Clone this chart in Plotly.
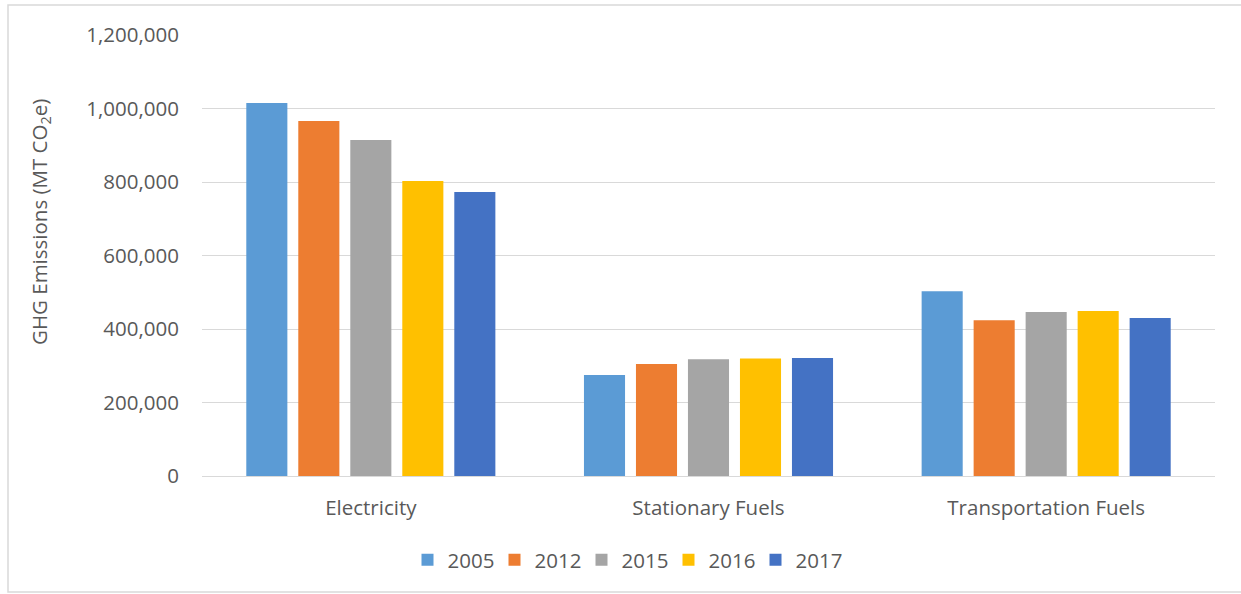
import plotly.graph_objects as go

categories = ["Electricity", "Stationary Fuels", "Transportation Fuels"]
years = ["2005", "2012", "2015", "2016", "2017"]
v2005 = [1015000, 275000, 503000]
v2012 = [966000, 305000, 424000]
v2015 = [914000, 318000, 446000]
v2016 = [803000, 320000, 449000]
v2017 = [773000, 321000, 430000]
series = [v2005, v2012, v2015, v2016, v2017]
colors = ["#5B9BD5", "#ED7D31", "#A5A5A5", "#FFC000", "#4472C4"]

W, H = 1241, 594
L, R, T, B = 202, 1215, 35, 476

fig = go.Figure()
for yr, vals, c in zip(years, series, colors):
    fig.add_trace(go.Bar(name=yr, x=categories, y=vals, marker_color=c,
                         marker_line_width=0))

font = "Open Sans, DejaVu Sans, sans-serif"
grey = "#595959"

def px2x(px):
    return (px - L) / (R - L)

def py2y(py):
    return (B - py) / (B - T)

fig.update_layout(
    width=W, height=H,
    margin=dict(l=L, r=W - R, t=T, b=H - B),
    paper_bgcolor="white", plot_bgcolor="white",
    barmode="group", bargap=0.23, bargroupgap=0.21,
    font=dict(family=font, color=grey, size=20),
    showlegend=True,
    legend=dict(orientation="h", x=px2x(625), xanchor="center",
                y=py2y(560), yanchor="middle",
                font=dict(size=20.5, color=grey), traceorder="normal",
                itemwidth=30, entrywidth=42, entrywidthmode="pixels"),
    yaxis=dict(range=[0, 1200000], dtick=200000, tickformat=",d",
               showgrid=True, gridcolor="#D9D9D9", gridwidth=1.3,
               zeroline=True, zerolinecolor="#D9D9D9", zerolinewidth=1.3,
               showline=False, ticks="", ticklabelstandoff=22,
               tickfont=dict(size=20.5, color=grey)),
    xaxis=dict(showline=False, ticks="", tickfont=dict(size=20.5, color=grey),
               ticklabelstandoff=17),
    annotations=[dict(text="GHG Emissions (MT CO<sub>2</sub>e)",
                      xref="paper", yref="paper", x=px2x(40), y=py2y(222),
                      xanchor="center", yanchor="middle", textangle=-90,
                      showarrow=False, font=dict(size=20.5, color=grey))],
    shapes=[dict(type="rect", xref="paper", yref="paper",
                 x0=px2x(8), x1=px2x(1250), y0=py2y(592), y1=py2y(5),
                 line=dict(color="#D9D9D9", width=1.5), layer="below")],
)

fig.write_html("out.html")
